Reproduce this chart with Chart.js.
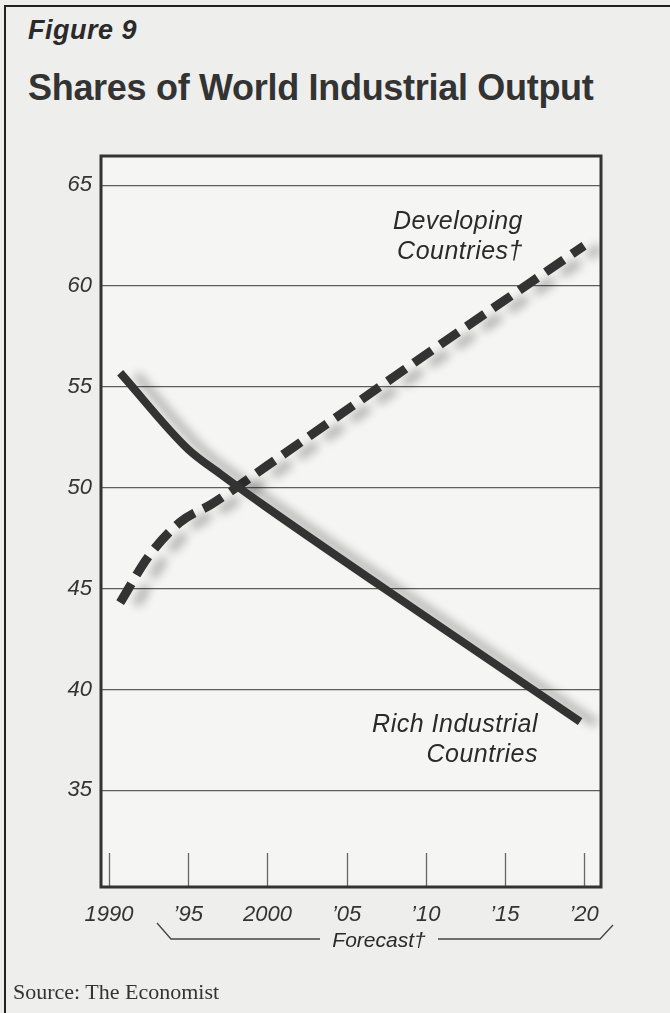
<!DOCTYPE html>
<html>
<head>
<meta charset="utf-8">
<script src="https://cdn.jsdelivr.net/npm/chart.js@4.4.1/dist/chart.umd.min.js"></script>
<style>
  html, body { margin: 0; padding: 0; }
  body { width: 670px; height: 1013px; background: #eeeeec; position: relative; overflow: hidden;
         font-family: "Liberation Sans", Arial, sans-serif; color: #2a2a2a; }
  #chart { position: absolute; left: 0; top: 0; }
  .txt { position: absolute; white-space: nowrap; }
  .frame-top { position: absolute; left: 4px; top: 5px; width: 666px; height: 2px; background: #222; }
  .frame-left { position: absolute; left: 4px; top: 5px; width: 2px; height: 1008px; background: #222; }
  #fig { left: 28px; top: 17px; font-size: 27px; font-weight: bold; font-style: italic; line-height: 1; letter-spacing: 0.5px; }
  #title { left: 28px; top: 70px; font-size: 36px; font-weight: bold; line-height: 1; letter-spacing: -0.3px; color: #333; }
  .note { font-size: 25px; font-style: italic; line-height: 30px; text-align: right; letter-spacing: 0.5px; }
  #devNote { right: 147px; top: 205px; }
  #richNote { right: 132px; top: 708px; }
  #forecast { left: 379px; top: 929px; transform: translateX(-50%); font-size: 21px; font-style: italic; line-height: 1; }
  #source { left: 13px; top: 981px; font-family: "Liberation Serif", "Times New Roman", serif; font-size: 22px; line-height: 1; color: #333; }
</style>
</head>
<body>
<div class="frame-top"></div>
<div class="frame-left"></div>
<div id="fig" class="txt">Figure 9</div>
<div id="title" class="txt">Shares of World Industrial Output</div>
<canvas id="chart" width="670" height="1013"></canvas>
<div id="devNote" class="txt note">Developing<br>Countries†</div>
<div id="richNote" class="txt note">Rich Industrial<br>Countries</div>
<div id="forecast" class="txt">Forecast†</div>
<div id="source" class="txt">Source: The Economist</div>

<script>
// valeurs (part en %)
const richYears = [1990.7, 1995, 1997, 2000, 2010, 2019.75];
const richShare = [55.7, 51.9, 50.7, 49.0, 43.6, 38.4];

const devYears = [1990.7, 1992.5, 1994.5, 1996.5, 2000, 2010, 2020];
const devShare = [44.3, 46.6, 48.3, 49.2, 51.1, 56.6, 62.0];

const xTicks = [1990, 1995, 2000, 2005, 2010, 2015, 2020];
const xTickLabels = ['1990', '’95', '2000', '’05', '’10', '’15', '’20'];
const yTicks = [35, 40, 45, 50, 55, 60, 65];

const ink = '#333333';

// fond du cadre, petites graduations en bas et cadre épais
const framePlugin = {
    id: 'frame',
    beforeDraw(chart) {
        const { ctx, chartArea: a } = chart;
        ctx.save();
        ctx.fillStyle = '#f5f5f4';
        ctx.fillRect(a.left, a.top, a.right - a.left, a.bottom - a.top);
        ctx.restore();
    },
    afterDatasetsDraw(chart) {
        const { ctx, chartArea: a } = chart;
        const xs = chart.scales.x;
        ctx.save();
        ctx.strokeStyle = '#666';
        ctx.lineWidth = 1.3;
        xs.ticks.forEach(t => {
            const px = Math.round(xs.getPixelForValue(t.value)) + 0.5;
            ctx.beginPath();
            ctx.moveTo(px, a.bottom);
            ctx.lineTo(px, a.bottom - 34);
            ctx.stroke();
        });
        ctx.strokeStyle = ink;
        ctx.lineWidth = 3;
        ctx.strokeRect(a.left, a.top, a.right - a.left, a.bottom - a.top);

        // accolade "Forecast"
        ctx.strokeStyle = '#444';
        ctx.lineWidth = 1.3;
        ctx.beginPath();
        ctx.moveTo(157, 923);
        ctx.lineTo(171, 939);
        ctx.lineTo(320, 939);
        ctx.moveTo(438, 939);
        ctx.lineTo(600, 939);
        ctx.lineTo(613, 925);
        ctx.stroke();
        ctx.restore();
    }
};

// ombre floue décalée sous chaque courbe
const shadowPlugin = {
    id: 'shadow',
    beforeDatasetDraw(chart) {
        const ctx = chart.ctx;
        ctx.save();
        ctx.shadowColor = 'rgba(0,0,0,0.28)';
        ctx.shadowBlur = 10;
        ctx.shadowOffsetX = 16;
        ctx.shadowOffsetY = 2;
    },
    afterDatasetDraw(chart) {
        chart.ctx.restore();
    }
};

const tickFont = { family: '"Liberation Sans", Arial, sans-serif', size: 22, style: 'italic' };

new Chart(document.getElementById('chart'), {
    type: 'line',
    data: {
        datasets: [
            {
                label: 'Rich Industrial Countries',
                data: richYears.map((x, i) => ({ x: x, y: richShare[i] })),
                borderColor: ink,
                borderWidth: 8,
                pointRadius: 0,
                cubicInterpolationMode: 'monotone',
                borderCapStyle: 'butt',
                borderJoinStyle: 'round',
                fill: false
            },
            {
                label: 'Developing Countries†',
                data: devYears.map((x, i) => ({ x: x, y: devShare[i] })),
                borderColor: ink,
                borderWidth: 9,
                borderDash: [22, 10],
                pointRadius: 0,
                cubicInterpolationMode: 'monotone',
                borderCapStyle: 'butt',
                fill: false
            }
        ]
    },
    options: {
        responsive: false,
        animation: false,
        events: [],
        layout: { padding: { top: 156, right: 69, bottom: 0, left: 0 } },
        plugins: { legend: { display: false }, tooltip: { enabled: false } },
        scales: {
            x: {
                type: 'linear',
                min: 1989.49,
                max: 2021.07,
                afterBuildTicks: s => { s.ticks = xTicks.map(v => ({ value: v })); },
                afterFit: s => { s.height = 126; },
                ticks: {
                    autoSkip: false,
                    maxRotation: 0,
                    padding: 7,
                    color: ink,
                    font: tickFont,
                    callback: (v, i) => xTickLabels[i]
                },
                grid: { display: false },
                border: { display: false }
            },
            y: {
                min: 30.2,
                max: 66.45,
                afterBuildTicks: s => { s.ticks = yTicks.map(v => ({ value: v })); },
                afterFit: s => { s.width = 101; },
                ticks: { padding: 9, color: ink, font: tickFont },
                grid: { color: '#5e5e5e', lineWidth: 1.3, drawTicks: false },
                border: { display: false }
            }
        }
    },
    plugins: [framePlugin, shadowPlugin]
});
</script>
</body>
</html>
